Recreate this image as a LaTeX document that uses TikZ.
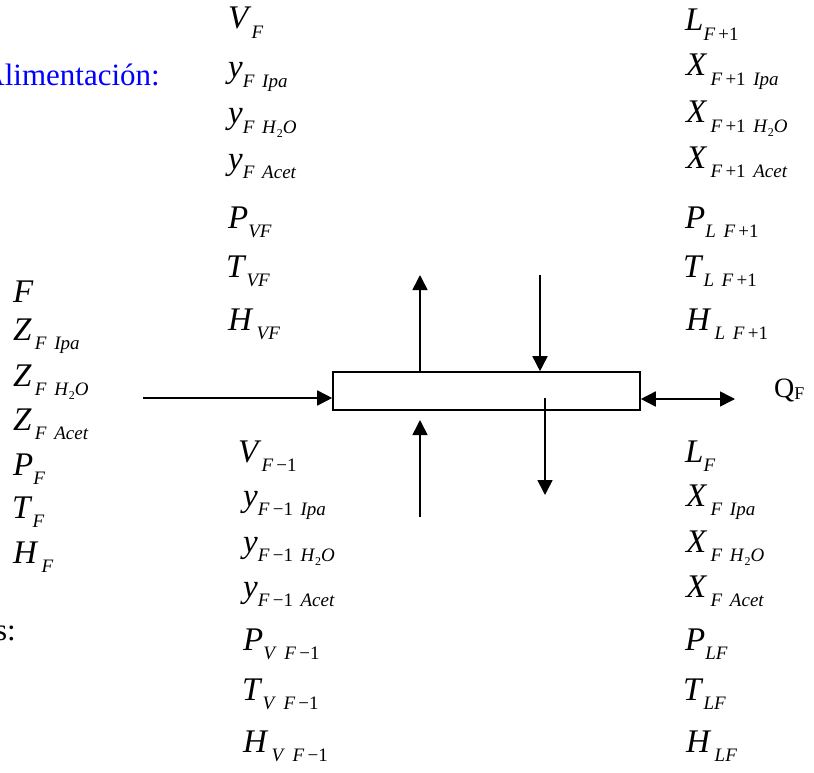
\documentclass[tikz,border=0pt]{standalone}
\usepackage{fontspec}
\setmainfont{Liberation Serif}
\usepackage{xcolor}
\usetikzlibrary{positioning,arrows.meta}

\newcommand{\sv}[2]{\textit{#1}\raisebox{-9.5pt}{\fontsize{19}{19}\selectfont #2}}
\newcommand{\ssub}[1]{\raisebox{-4pt}{\fontsize{12}{12}\selectfont #1}}
\newcommand{\gp}{\hspace{0.4em}}

\begin{document}
\begin{tikzpicture}[
x=1pt,
y=-1pt,
stage/.style={
draw,
line width=1.6pt,
minimum width=307pt,
minimum height=38pt,
inner sep=0pt
},
lbl/.style={
anchor=base west,
inner sep=0pt,
font=\fontsize{33}{35}\selectfont
},
flow/.style={
-{Triangle[length=15pt,width=15pt]},
line width=1.6pt
},
biflow/.style={
{Triangle[length=15pt,width=15pt]}-{Triangle[length=15pt,width=15pt]},
line width=1.6pt
}
]

\useasboundingbox (0,0) rectangle (814,773);


% Plate

\node (plate) [stage] at (486.5,391) {};


% Headings

\node (alim) [anchor=base east, inner sep=0pt, text=blue,
font=\fontsize{31}{33}\selectfont] at (160,86) {Alimentación:};

\node (salidas) [anchor=base east, inner sep=0pt,
font=\fontsize{31}{33}\selectfont] at (16,640) {s:};


% Vapour leaving the plate

\node (vF) [lbl] at (228,29) {\sv{V}{\textit{F}}};
\node (yFipa) [lbl] at (228,78) {\sv{y}{\textit{F}\gp\textit{Ipa}}};
\node (yFh2o) [lbl] at (228,124) {\sv{y}{\textit{F}\gp\textit{H}\ssub{2}\textit{O}}};
\node (yFacet) [lbl] at (228,169) {\sv{y}{\textit{F}\gp\textit{Acet}}};
\node (pVF) [lbl] at (228,228) {\sv{P}{\textit{VF}}};
\node (tVF) [lbl] at (226,277) {\sv{T}{\textit{VF}}};
\node (hVF) [lbl] at (228,330) {\sv{H}{\,\textit{VF}}};


% Liquid coming from the plate above

\node (lF1) [lbl] at (685,31) {\sv{L}{\textit{F}\,+1}};
\node (xF1ipa) [lbl] at (686,76) {\sv{X}{\,\textit{F}\,+1\gp\textit{Ipa}}};
\node (xF1h2o) [lbl] at (686,123) {\sv{X}{\,\textit{F}\,+1\gp\textit{H}\ssub{2}\textit{O}}};
\node (xF1acet) [lbl] at (686,168) {\sv{X}{\,\textit{F}\,+1\gp\textit{Acet}}};
\node (pLF1) [lbl] at (685,228) {\sv{P}{\textit{L}\gp\textit{F}\,+1}};
\node (tLF1) [lbl] at (683,277) {\sv{T}{\textit{L}\gp\textit{F}\,+1}};
\node (hLF1) [lbl] at (686,330) {\sv{H}{\,\textit{L}\gp\textit{F}\,+1}};


% Feed

\node (fF) [lbl] at (13,302) {\textit{F}};
\node (zFipa) [lbl] at (13,340) {\sv{Z}{\,\textit{F}\gp\textit{Ipa}}};
\node (zFh2o) [lbl] at (13,386) {\sv{Z}{\,\textit{F}\gp\textit{H}\ssub{2}\textit{O}}};
\node (zFacet) [lbl] at (13,430) {\sv{Z}{\,\textit{F}\gp\textit{Acet}}};
\node (pF) [lbl] at (13,475) {\sv{P}{\textit{F}}};
\node (tF) [lbl] at (12,518) {\sv{T}{\textit{F}}};
\node (hF) [lbl] at (13,563) {\sv{H}{\,\textit{F}}};


% Vapour coming from the plate below

\node (vF0) [lbl] at (238,462) {\sv{V}{\textit{F}\,−1}};
\node (yF0ipa) [lbl] at (243,506) {\sv{y}{\textit{F}\,−1\gp\textit{Ipa}}};
\node (yF0h2o) [lbl] at (243,552) {\sv{y}{\textit{F}\,−1\gp\textit{H}\ssub{2}\textit{O}}};
\node (yF0acet) [lbl] at (243,597) {\sv{y}{\textit{F}\,−1\gp\textit{Acet}}};
\node (pVF0) [lbl] at (243,650) {\sv{P}{\textit{V}\gp\textit{F}\,−1}};
\node (tVF0) [lbl] at (242,700) {\sv{T}{\textit{V}\gp\textit{F}\,−1}};
\node (hVF0) [lbl] at (243,752) {\sv{H}{\,\textit{V}\gp\textit{F}\,−1}};


% Liquid leaving the plate

\node (lF) [lbl] at (685,462) {\sv{L}{\textit{F}}};
\node (xFipa) [lbl] at (686,506) {\sv{X}{\,\textit{F}\gp\textit{Ipa}}};
\node (xFh2o) [lbl] at (686,552) {\sv{X}{\,\textit{F}\gp\textit{H}\ssub{2}\textit{O}}};
\node (xFacet) [lbl] at (686,597) {\sv{X}{\,\textit{F}\gp\textit{Acet}}};
\node (pLF) [lbl] at (685,650) {\sv{P}{\textit{LF}}};
\node (tLF) [lbl] at (683,700) {\sv{T}{\textit{LF}}};
\node (hLF) [lbl] at (686,752) {\sv{H}{\,\textit{LF}}};


% Heat

\node (qF) [anchor=base west, inner sep=0pt,
font=\fontsize{28}{30}\selectfont] at (774,397)
{Q\raisebox{-2pt}{\fontsize{18}{18}\selectfont F}};


% Streams

\coordinate (feed) at (143,398);
\coordinate (vout) at (420,275);
\coordinate (lin) at (540,275);
\coordinate (vinA) at (420,517);
\coordinate (vinB) at (420,420);
\coordinate (loutA) at (545,398);
\coordinate (loutB) at (545,495);
\coordinate (heat) at (735,399);


\draw[flow] (feed) -- (feed -| plate.west);
\draw[flow] (plate.north -| vout) -- (vout);
\draw[flow] (lin) -- (plate.north -| lin);
\draw[flow] (vinA) -- (vinB);
\draw[flow] (loutA) -- (loutB);
\draw[biflow] (plate.east |- heat) -- (heat);


\end{tikzpicture}
\end{document}
